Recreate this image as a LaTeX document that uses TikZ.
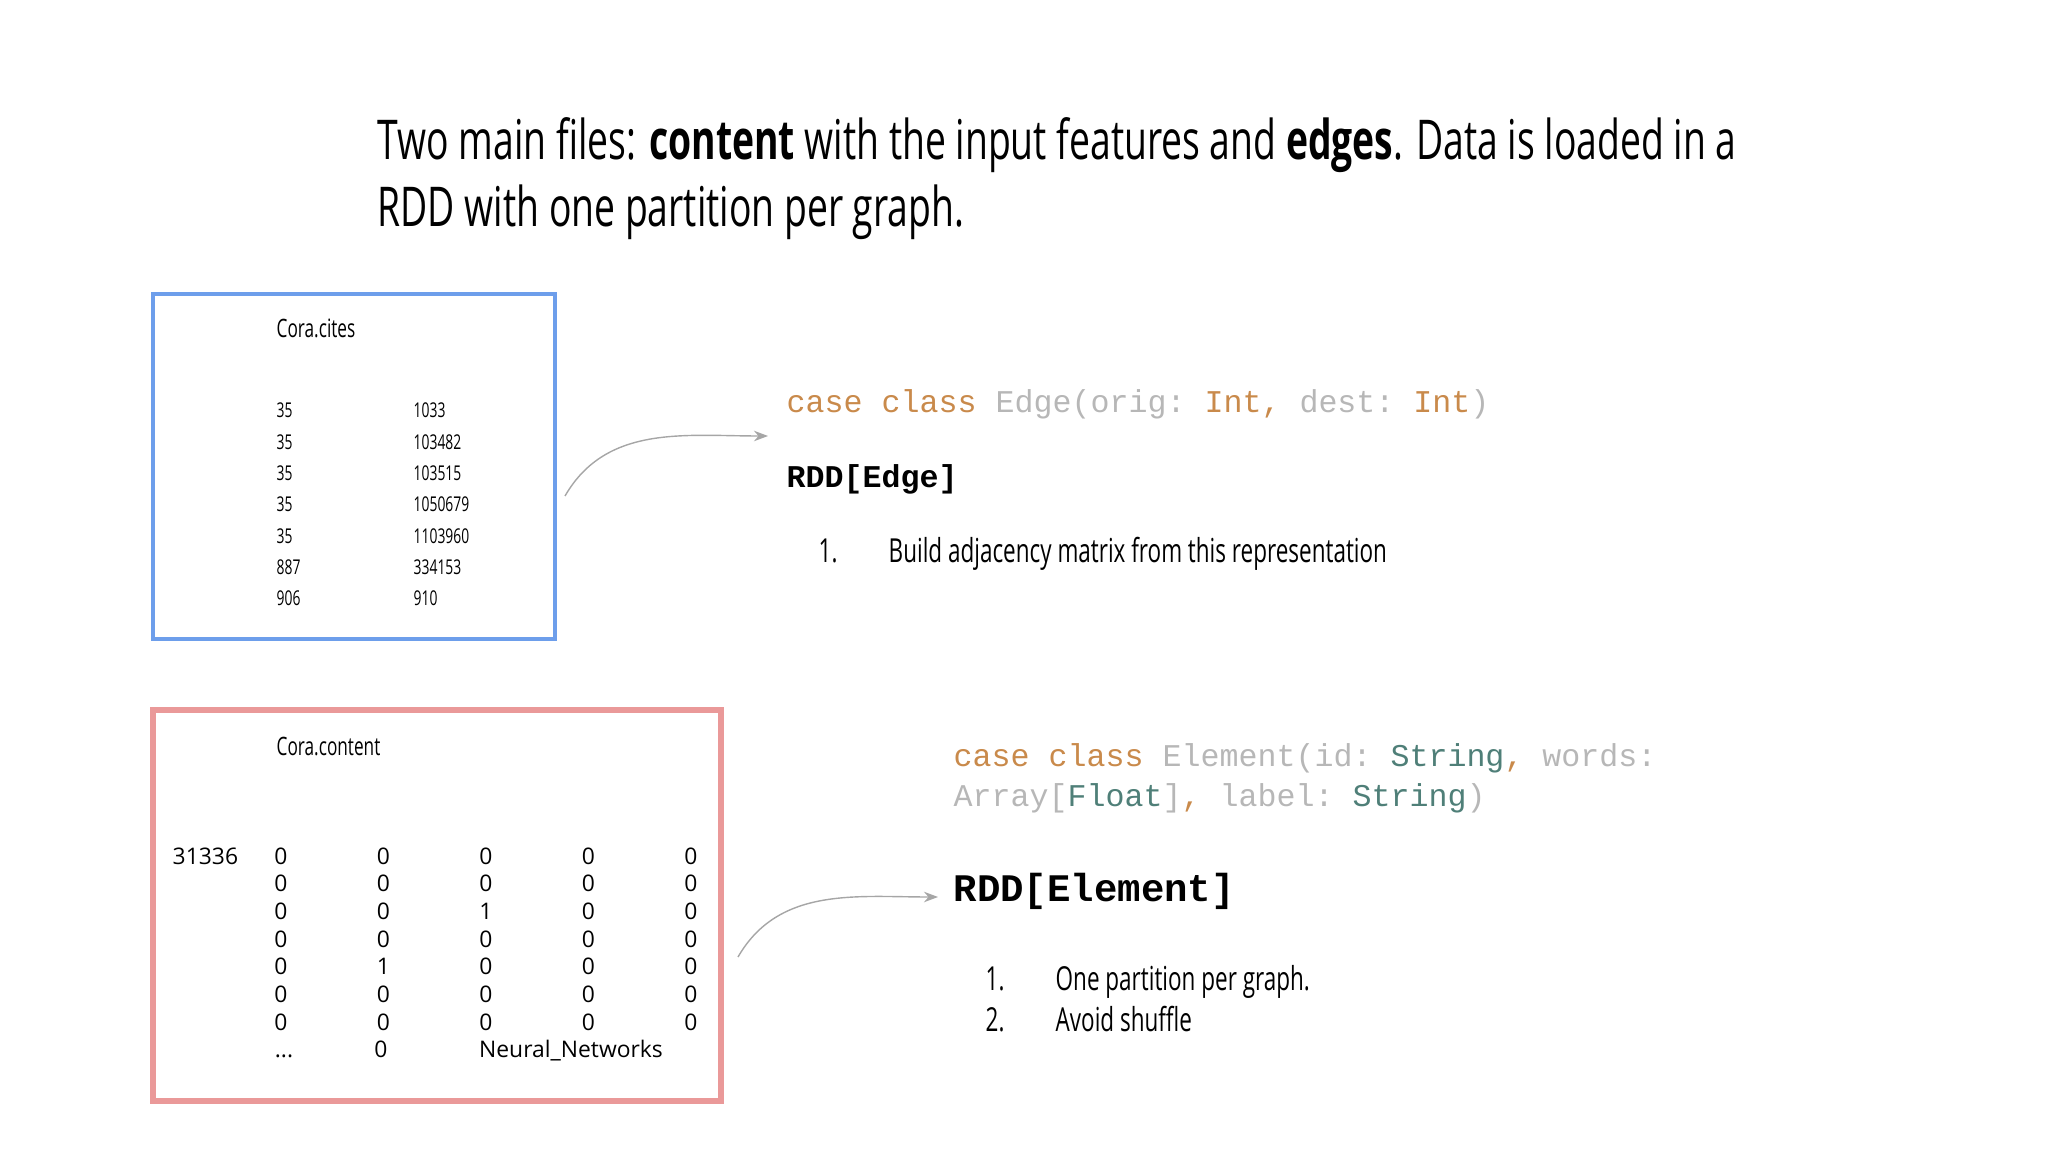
\documentclass[tikz,border=0pt]{standalone}
\usepackage{fontspec}
\setmainfont{Open Sans}
\newfontfamily\cond[FakeStretch=0.68]{Open Sans}
\setmonofont{Liberation Mono}
\usetikzlibrary{positioning,arrows.meta}
\definecolor{boxblue}{HTML}{6D9EEB}
\definecolor{boxred}{HTML}{EA9999}
\definecolor{kw}{HTML}{C98A4B}
\definecolor{lt}{HTML}{B7B7B7}
\definecolor{ty}{HTML}{4F7F78}
\tikzset{
  cell/.style={inner sep=0pt,font=\cond\fontsize{5.8}{6}\selectfont,anchor=base west},
  num/.style={inner sep=0pt,font=\fontsize{6.5}{7}\selectfont,anchor=base},
  code/.style={inner sep=0pt,anchor=base west,font=\ttfamily\fontsize{9}{11.2}\selectfont},
  item/.style={inner sep=0pt,anchor=base west,font=\cond\fontsize{9.4}{11}\selectfont},
  link/.style={gray!70,thin,-{Stealth[length=4pt]}}
}
\begin{document}
\begin{tikzpicture}[x=0.01cm,y=-0.01cm]
\useasboundingbox (0,0) rectangle (2048,1152);

% title
\node[inner sep=0pt,anchor=base west,align=left,font=\cond\fontsize{15.6}{19.2}\selectfont] (title) at (377,227)
  {Two main files: \textbf{content} with the input features and \textbf{edges}. Data is loaded in a\\RDD with one partition per graph.};

% cites file
\draw[boxblue,line width=1.2pt] (153,294) rectangle (555,639);
\node[cell,font=\cond\fontsize{7.2}{8}\selectfont] (cites) at (276,338) {Cora.cites};
\foreach \a/\b [count=\i from 0] in {35/1033,35/103482,35/103515,35/1050679,35/1103960,887/334153,906/910}{
  \node[cell] (ca\i) at (276,418+31.3*\i) {\a};
  \node[cell] (cb\i) at (413,418+31.3*\i) {\b};
}

% content file
\draw[boxred,line width=1.5pt] (153,710) rectangle (721,1101);
\node[cell,font=\cond\fontsize{7.2}{8}\selectfont] (content) at (276,755) {Cora.content};
\node[num,anchor=base west] (paper) at (172,864) {31336};
\foreach \r [count=\j from 0] in {{0,0,0,0,0},{0,0,0,0,0},{0,0,1,0,0},{0,0,0,0,0},{0,1,0,0,0},{0,0,0,0,0},{0,0,0,0,0}}{
  \foreach \v [count=\k from 0] in \r {
    \node[num] (m\j\k) at (281+102.5*\k,864+27.7*\j) {\v};
  }
}
\node[num] (dots) at (284,1057) {...};
\node[num] (zero) at (381,1057) {0};
\node[num] (lab) at (571,1057) {Neural\_Networks};

% edges code
\node[code] (edgecls) at (786,413) {\textcolor{kw}{case class} \textcolor{lt}{Edge(orig:} \textcolor{kw}{Int,} \textcolor{lt}{dest:} \textcolor{kw}{Int}\textcolor{lt}{)}};
\node[code,font=\ttfamily\bfseries\fontsize{9}{11}\selectfont] (rddedge) at (786,488) {RDD[Edge]};
\node[item] (e1n) at (818,563) {1.};
\node[item] (e1) at (888,563) {Build adjacency matrix from this representation};

% element code
\node[code,align=left] (elemcls) at (953,806) {\textcolor{kw}{case class} \textcolor{lt}{Element(id:} \textcolor{ty}{String}\textcolor{kw}{,} \textcolor{lt}{words:}\\
  \textcolor{lt}{Array[}\textcolor{ty}{Float}\textcolor{lt}{]}\textcolor{kw}{,} \textcolor{lt}{label:} \textcolor{ty}{String}\textcolor{lt}{)}};
\node[code,font=\ttfamily\bfseries\fontsize{11.1}{13}\selectfont] (rddelem) at (953,901) {RDD[Element]};
\node[item] (l1n) at (985,990) {1.};
\node[item] (l1) at (1055,990) {One partition per graph.};
\node[item] (l2n) at (985,1031) {2.};
\node[item] (l2) at (1055,1031) {Avoid shuffle};

% arrows
\coordinate (s1) at (565,496);
\coordinate (t1) at (768,436);
\coordinate (s2) at (738,957);
\coordinate (t2) at (938,897);
\draw[link] (s1) to[out=60,in=180] (t1);
\draw[link] (s2) to[out=60,in=180] (t2);
\end{tikzpicture}
\end{document}
